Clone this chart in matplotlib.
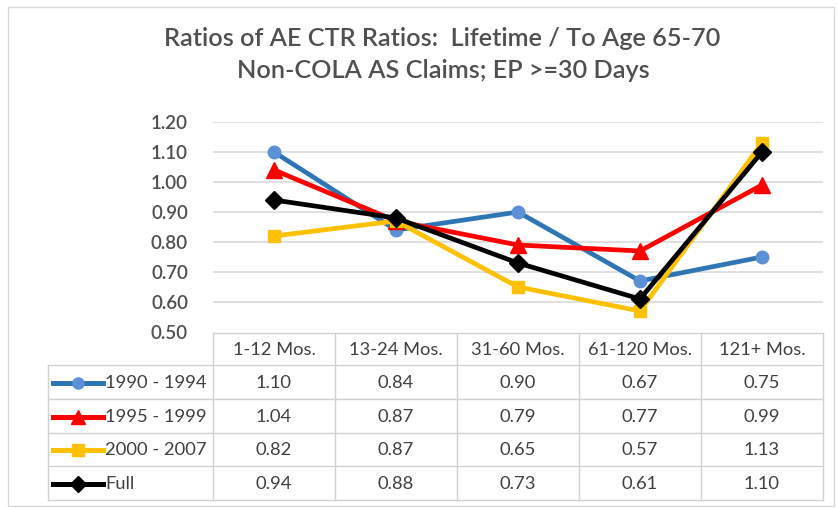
import matplotlib
matplotlib.use("Agg")
import matplotlib.pyplot as plt
from matplotlib.lines import Line2D
from matplotlib.patches import Rectangle

categories = ["1-12 Mos.", "13-24 Mos.", "31-60 Mos.", "61-120 Mos.", "121+ Mos."]
series_names = ["1990 - 1994", "1995 - 1999", "2000 - 2007", "Full"]
s1990 = [1.10, 0.84, 0.90, 0.67, 0.75]
s1995 = [1.04, 0.87, 0.79, 0.77, 0.99]
s2000 = [0.82, 0.87, 0.65, 0.57, 1.13]
sfull = [0.94, 0.88, 0.73, 0.61, 1.10]
yticks = [0.50, 0.60, 0.70, 0.80, 0.90, 1.00, 1.10, 1.20]

series = [s1990, s1995, s2000, sfull]
line_colors = ["#2E75B6", "#FF0000", "#FFC000", "#000000"]
marker_faces = ["#5B8FD6", "#FF0000", "#FFC000", "#000000"]
markers = ["o", "^", "s", "D"]
msizes = [9, 11, 9, 9]

W, H = 838, 508
fig = plt.figure(figsize=(W / 100, H / 100), dpi=100)
plt.rcParams['font.family'] = ['Lato', 'DejaVu Sans']

def fx(px):
    return px / W

def fy(py):
    return 1 - py / H

# border
fig.patches.append(Rectangle((fx(8), fy(506)), fx(826) - fx(0), fy(7) - fy(506),
                             transform=fig.transFigure, fill=False,
                             edgecolor="#D9D9D9", linewidth=1))

# title
fig.text(fx(442), fy(39), "Ratios of AE CTR Ratios:  Lifetime / To Age 65-70",
         ha="center", va="center", fontsize=18.2, color="#505050", fontweight="semibold")
fig.text(fx(443), fy(71), "Non-COLA AS Claims; EP >=30 Days",
         ha="center", va="center", fontsize=18.2, color="#505050", fontweight="semibold")

# plot axes
x0, x1 = 213, 823
ytop, ybot = 122, 332
ax = fig.add_axes([fx(x0), fy(ybot), fx(x1) - fx(x0), fy(ytop) - fy(ybot)])
ax.set_xlim(-0.5, len(categories) - 0.5)
ax.set_ylim(0.5, 1.2)
for y in yticks[1:]:
    ax.axhline(y, color="#D9D9D9", linewidth=1.2, zorder=0)
for s, lc, mf, m, ms in zip(series, line_colors, marker_faces, markers, msizes):
    ax.plot(range(len(categories)), s, color=lc, linewidth=3.4, marker=m,
            markersize=ms, markerfacecolor=mf, markeredgecolor=mf, zorder=3,
            clip_on=False)
ax.set_yticks(yticks)
ax.set_yticklabels([f"{v:.2f}" for v in yticks], fontsize=13.5, color="#505050",
                   fontweight="semibold")
ax.tick_params(axis="y", length=0, pad=18)
ax.set_xticks([])
for sp in ax.spines.values():
    sp.set_visible(False)
ax.patch.set_alpha(0)

# table
tab = fig.add_axes([0, 0, 1, 1])
tab.set_xlim(0, W)
tab.set_ylim(H, 0)
tab.axis("off")
tab.patch.set_alpha(0)
col_w = (x1 - x0) / len(categories)
tl, tt = 48, 333
header_b = 365
row_h = (500 - header_b) / len(series)
gc = "#D0D0D0"
tab.plot([x0, x1], [tt, tt], color=gc, lw=1)
for i in range(len(categories) + 1):
    xx = x0 + i * col_w
    tab.plot([xx, xx], [tt, 500], color=gc, lw=1)
tab.plot([tl, x1], [header_b, header_b], color=gc, lw=1)
for r in range(len(series)):
    yy = header_b + (r + 1) * row_h
    tab.plot([tl, x1], [yy, yy], color=gc, lw=1)
tab.plot([tl, tl], [header_b, 500], color=gc, lw=1)
tfs = 13.2
for i, c in enumerate(categories):
    tab.text(x0 + (i + 0.5) * col_w, (tt + header_b) / 2 + 1, c, ha="center",
             va="center", fontsize=tfs, color="#404040")
for r, (name, s) in enumerate(zip(series_names, series)):
    yc = header_b + (r + 0.5) * row_h + 1
    tab.add_line(Line2D([53, 103], [yc, yc], color=line_colors[r], linewidth=3.6))
    tab.add_line(Line2D([78], [yc], marker=markers[r], markersize=msizes[r] - 1,
                        color=marker_faces[r], linestyle="none"))
    tab.text(105, yc, name, ha="left", va="center", fontsize=tfs, color="#404040")
    for i, v in enumerate(s):
        tab.text(x0 + (i + 0.5) * col_w, yc, f"{v:.2f}", ha="center",
                 va="center", fontsize=tfs, color="#404040")

fig.savefig("out.png", dpi=100)
